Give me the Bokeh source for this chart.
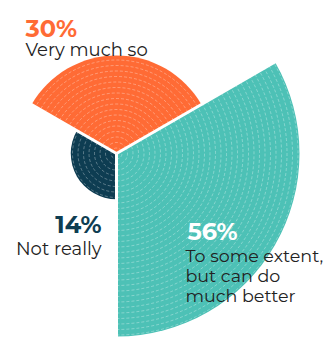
import math
from bokeh.plotting import figure
from bokeh.models import Range1d, ColumnDataSource
from bokeh.core.properties import value
from bokeh.embed import file_html
from bokeh.resources import INLINE

# ---- data ----
categories = ["Very much so", "Not really", "To some extent,\nbut can do\nmuch better"]
values = [30, 14, 56]
colors = ["#FF6B35", "#0E3D52", "#4DC1B6"]
pct_colors = ["#FF6B35", "#0E3D52", "#FFFFFF"]

W, H = 325, 337
p = figure(width=W, height=H, output_backend="svg", toolbar_location=None,
           x_range=Range1d(0, W), y_range=Range1d(0, H), min_border=0)
p.axis.visible = False
p.grid.visible = False
p.outline_line_color = None
p.background_fill_color = "white"

def px(x):
    return x
def py(y):
    return H - y

cx, cy = px(116), py(153)
k = 183.0 / 56  # px per percent
seg = 2 * math.pi / len(values)
start0 = math.radians(30)

starts = [start0 + i * seg for i in range(len(values))]
ends = [s + seg for s in starts]
radii = [v * k for v in values]

src = ColumnDataSource(dict(x=[cx] * 3, y=[cy] * 3, r=radii, s=starts, e=ends, c=colors))
p.wedge(x="x", y="y", radius="r", start_angle="s", end_angle="e", fill_color="c",
        line_color=None, source=src)

# concentric dashed rings
step = 5.5
ax, ay, ar, asa, aea = [], [], [], [], []
for r, s, e in zip(radii, starts, ends):
    n = int(r // step)
    for i in range(1, n + 1):
        rr = i * step
        if rr > r - 1:
            break
        ax.append(cx); ay.append(cy); ar.append(rr); asa.append(s); aea.append(e)
p.arc(x=ax, y=ay, radius=ar, start_angle=asa, end_angle=aea,
      line_color="white", line_alpha=0.4, line_width=0.8, line_dash="3 2")

# white separators
x0s, y0s, x1s, y1s = [], [], [], []
for i, s in enumerate(starts):
    prev = (i - 1) % len(values)
    L = max(radii[i], radii[prev]) + 3
    x0s.append(cx); y0s.append(cy)
    x1s.append(cx + L * math.cos(s)); y1s.append(cy + L * math.sin(s))
p.segment(x0=x0s, y0=y0s, x1=x1s, y1=y1s, line_color="white", line_width=3)

font = value("Montserrat, Open Sans")
# label layout (pixel positions)
pct_pos = [(25, 28, "left"), (101, 224, "right"), (187, 231, "left")]
lab_pos = [(25, 49, "left"), (101, 248, "right"), (185, 255, "left")]
lab_size = ["18px", "18px", "17.5px"]
for i in range(3):
    x, y, al = pct_pos[i]
    p.text(x=[px(x)], y=[py(y)], text=[f"{values[i]}%"], text_color=pct_colors[i],
           text_font=font, text_font_style="bold", text_font_size="24px",
           text_align=al, text_baseline="alphabetic")
    x, y, al = lab_pos[i]
    lines = categories[i].split("\n")
    p.text(x=[px(x)] * len(lines), y=[py(y + 20 * j) for j in range(len(lines))],
           text=lines, text_color="#222222", text_font=font,
           text_font_size=lab_size[i], text_align=al, text_baseline="alphabetic")

open("out.html", "w").write(file_html(p, INLINE))
